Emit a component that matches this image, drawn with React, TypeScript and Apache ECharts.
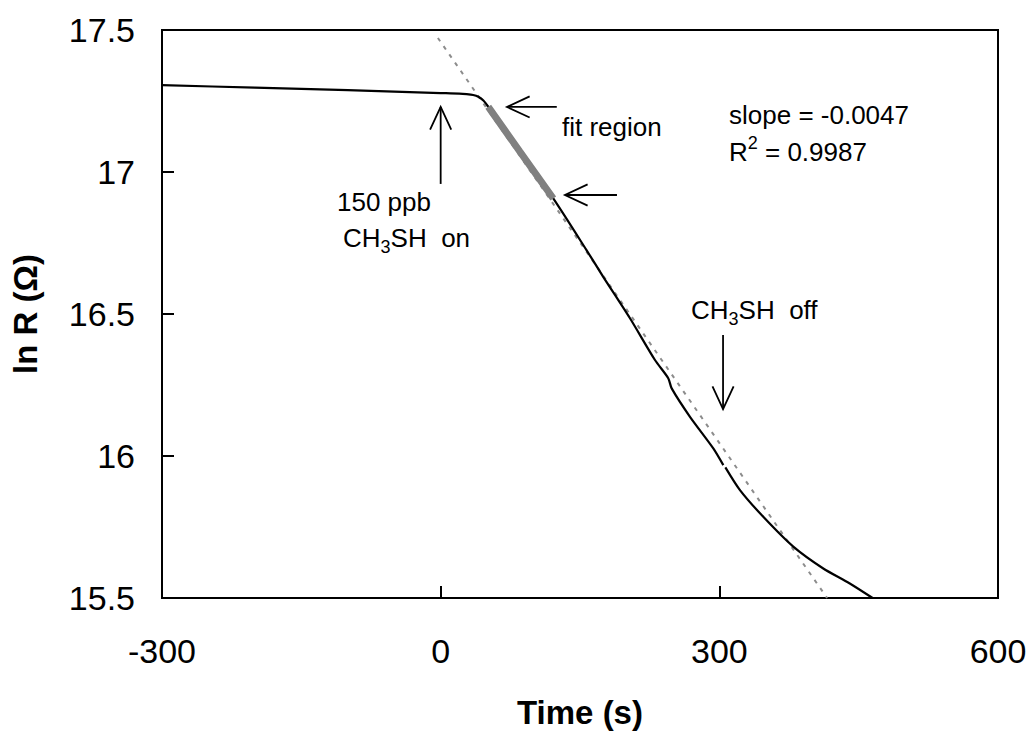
import React, { useEffect, useRef } from "react";
import * as echarts from "echarts";

// Measured curve: time (s) vs ln R (Ω)
const curveTimes = [-300, -200, -100, 0, 20, 28, 35, 40.5, 46, 51.2, 85.4, 121.2, 157, 175, 203.8, 230.7, 245, 248.7, 268.4, 293.5, 304.3, 305.3, 306.5, 322.2, 347.3, 379.6, 411.9, 440, 465];
const curveValues: (number | null)[] = [17.306, 17.297, 17.288, 17.278, 17.276, 17.274, 17.271, 17.265, 17.252, 17.23, 17.071, 16.907, 16.725, 16.631, 16.485, 16.338, 16.274, 16.238, 16.138, 16.027, 15.968, null, 15.96, 15.88, 15.786, 15.681, 15.604, 15.552, 15.5];

// Fit region (highlighted in grey)
const fitRegionTimes = [51.2, 85.4, 121.2];
const fitRegionValues = [17.23, 17.071, 16.907];

// Linear fit line (dashed)
const fitLineTimes = [-3, 416];
const fitLineValues = [17.472, 15.5];

// Axis ticks
const xTicks = [-300, 0, 300, 600];
const yTicks = [15.5, 16, 16.5, 17, 17.5];

// Annotation arrows [tailT, tailV, tipT, tipV]
const arrowOn = [0, 16.958, 0, 17.229];
const arrowFit1 = [125, 17.229, 71.4, 17.229];
const arrowFit2 = [189.8, 16.919, 133.8, 16.919];
const arrowOff = [304, 16.426, 304, 16.165];

const FONT = "Arial, 'Liberation Sans', Helvetica, sans-serif";

export default function App() {
  const ref = useRef<HTMLDivElement>(null);

  useEffect(() => {
    if (!ref.current) return;
    const chart = echarts.init(ref.current, undefined, { renderer: "svg" });

    const curveData = curveTimes.map((t, i) => [t, curveValues[i] === null ? "-" : curveValues[i]]);
    const fitRegionData = fitRegionTimes.map((t, i) => [t, fitRegionValues[i]]);
    const fitLineData = fitLineTimes.map((t, i) => [t, fitLineValues[i]]);

    chart.setOption({
      animation: false,
      backgroundColor: "#ffffff",
      textStyle: { fontFamily: FONT },
      grid: {
        left: 162,
        right: 36,
        top: 30,
        bottom: 136,
        show: true,
        borderColor: "#000",
        borderWidth: 2,
        backgroundColor: "transparent",
        containLabel: false,
      },
      xAxis: {
        type: "value",
        min: xTicks[0],
        max: xTicks[xTicks.length - 1],
        interval: xTicks[1] - xTicks[0],
        name: "Time (s)",
        nameLocation: "middle",
        nameGap: 98,
        nameTextStyle: { fontSize: 33, fontWeight: "bold", color: "#000", fontFamily: FONT },
        axisLine: { show: true, onZero: false, lineStyle: { color: "#000", width: 2 } },
        axisTick: { show: true, inside: true, length: 12, lineStyle: { color: "#000", width: 2 } },
        axisLabel: { fontSize: 34, color: "#000", margin: 36, fontFamily: FONT },
        splitLine: { show: false },
      },
      yAxis: {
        type: "value",
        min: yTicks[0],
        max: yTicks[yTicks.length - 1],
        interval: yTicks[1] - yTicks[0],
        name: "ln R (Ω)",
        nameLocation: "middle",
        nameRotate: 90,
        nameGap: 120,
        nameTextStyle: { fontSize: 33, fontWeight: "bold", color: "#000", fontFamily: FONT },
        axisLine: { show: true, onZero: false, lineStyle: { color: "#000", width: 2 } },
        axisTick: { show: true, inside: true, length: 12, lineStyle: { color: "#000", width: 2 } },
        axisLabel: { fontSize: 34, color: "#000", margin: 27, fontFamily: FONT },
        splitLine: { show: false },
      },
      series: [
        {
          name: "fit",
          type: "line",
          data: fitLineData,
          showSymbol: false,
          symbol: "none",
          lineStyle: { color: "#8c8c8c", width: 2, type: [4, 6] },
          z: 2,
        },
        {
          name: "ln R",
          type: "line",
          data: curveData,
          showSymbol: false,
          symbol: "none",
          connectNulls: false,
          smooth: 0.25,
          lineStyle: { color: "#000", width: 2.2 },
          z: 3,
        },
        {
          name: "fit region",
          type: "line",
          data: fitRegionData,
          showSymbol: false,
          symbol: "none",
          lineStyle: { color: "#808080", width: 7, cap: "butt" },
          z: 4,
        },
      ],
    });

    const px = (t: number, v: number) => chart.convertToPixel({ gridIndex: 0 } as any, [t, v]) as number[];
    const mkArrow = (a: number[]) => {
      const tail = px(a[0], a[1]);
      const tip = px(a[2], a[3]);
      const dx = tip[0] - tail[0];
      const dy = tip[1] - tail[1];
      const len = Math.hypot(dx, dy);
      const ux = dx / len;
      const uy = dy / len;
      const L = 25;
      const th = (25 * Math.PI) / 180;
      const rot = (ang: number) => [
        tip[0] - L * (ux * Math.cos(ang) - uy * Math.sin(ang)),
        tip[1] - L * (ux * Math.sin(ang) + uy * Math.cos(ang)),
      ];
      const style = { stroke: "#000", lineWidth: 1.8, fill: null };
      return [
        { type: "line", shape: { x1: tail[0], y1: tail[1], x2: tip[0], y2: tip[1] }, style, z: 10 },
        { type: "polyline", shape: { points: [rot(th), tip, rot(-th)] }, style, z: 10 },
      ];
    };

    const base = { fontSize: 26, fontFamily: FONT, lineHeight: 36, fill: "#000" };
    const rich = {
      a: { fontSize: 26, fontFamily: FONT, lineHeight: 36, color: "#000" },
      sub: { fontSize: 18, fontFamily: FONT, lineHeight: 18, verticalAlign: "bottom", color: "#000" },
      sup: { fontSize: 18, fontFamily: FONT, lineHeight: 22, verticalAlign: "top", color: "#000" },
    };
    const txt = (x: number, y: number, text: string) => ({
      type: "text",
      x,
      y,
      z: 10,
      style: { ...base, text, align: "left", verticalAlign: "middle", rich },
    });

    chart.setOption({
      graphic: [
        ...mkArrow(arrowOn),
        ...mkArrow(arrowFit1),
        ...mkArrow(arrowFit2),
        ...mkArrow(arrowOff),
        txt(337, 202, "{a|150 ppb}"),
        txt(343, 238, "{a|CH}{sub|3}{a|SH  on}"),
        txt(562, 127, "{a|fit region}"),
        txt(729, 115, "{a|slope = -0.0047}"),
        txt(729, 152, "{a|R}{sup|2}{a| = 0.9987}"),
        txt(691, 310, "{a|CH}{sub|3}{a|SH  off}"),
      ],
    });

    return () => chart.dispose();
  }, []);

  return (
    <div
      ref={ref}
      style={{ position: "fixed", left: 0, top: 0, width: 1034, height: 734, background: "#fff" }}
    />
  );
}
